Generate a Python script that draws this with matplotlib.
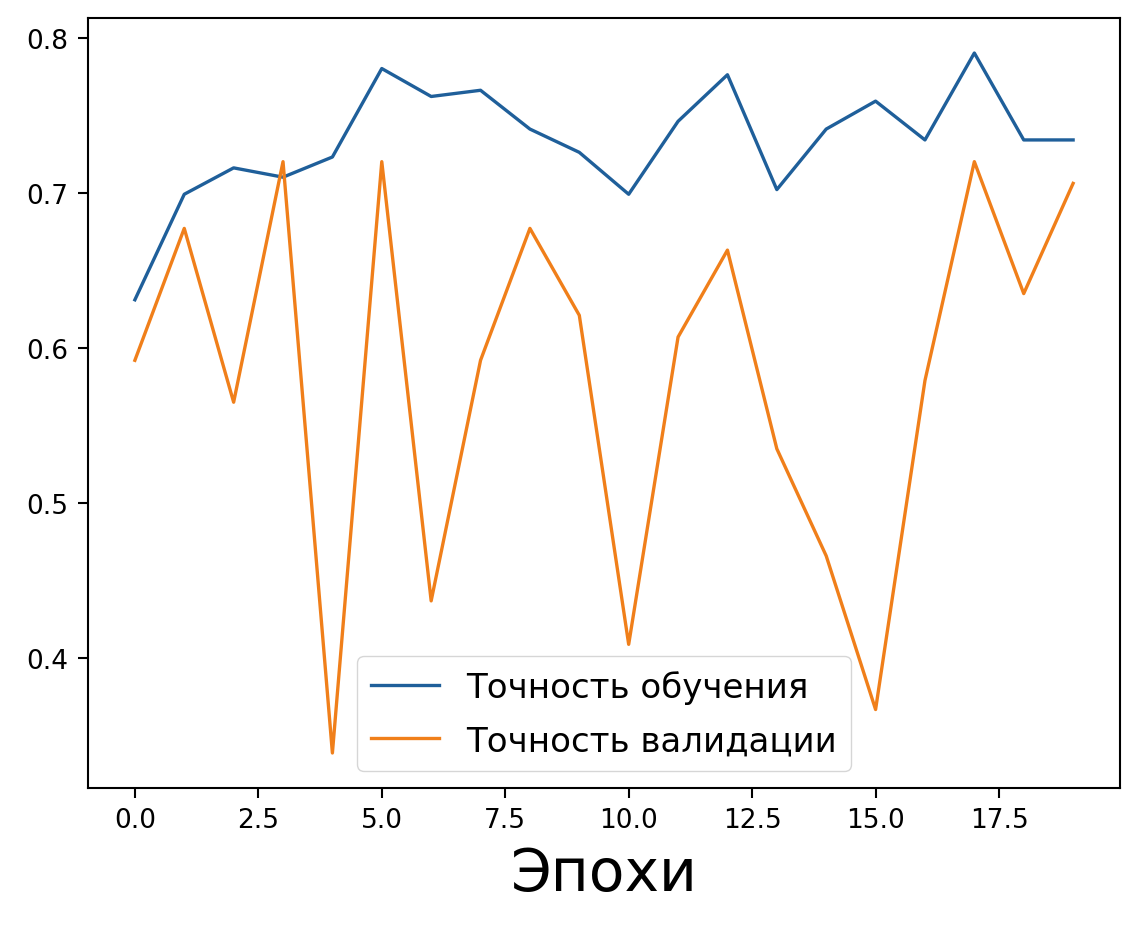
import numpy as np
import matplotlib
matplotlib.use("Agg")
import matplotlib.pyplot as plt

# accuracy per epoch
epochs = np.arange(20)
train_acc = [0.631, 0.699, 0.716, 0.710, 0.723, 0.780, 0.762, 0.766, 0.741, 0.726,
             0.699, 0.746, 0.776, 0.702, 0.741, 0.759, 0.734, 0.790, 0.734, 0.734]
val_acc = [0.592, 0.677, 0.565, 0.720, 0.339, 0.720, 0.437, 0.592, 0.677, 0.621,
           0.409, 0.607, 0.663, 0.535, 0.466, 0.367, 0.579, 0.720, 0.635, 0.706]

labels = ['Точность обучения', 'Точность валидации']

fig = plt.figure(figsize=(11.38, 9.28), dpi=100)
ax = fig.add_axes([0.0773, 0.1498, 0.9069, 0.8297])

ax.plot(epochs, train_acc, color='#1f5f9a', lw=2.4, label=labels[0])
ax.plot(epochs, val_acc, color='#f07f1a', lw=2.4, label=labels[1])

ax.tick_params(labelsize=19, length=7, width=1.5, pad=7)
for sp in ax.spines.values():
    sp.set_linewidth(1.5)

ax.set_xlabel('Эпохи', fontsize=42, labelpad=8)
ax.legend(loc='lower center', fontsize=24.5, handlelength=2.0, labelspacing=0.6)

fig.savefig('out.png', dpi=100)
